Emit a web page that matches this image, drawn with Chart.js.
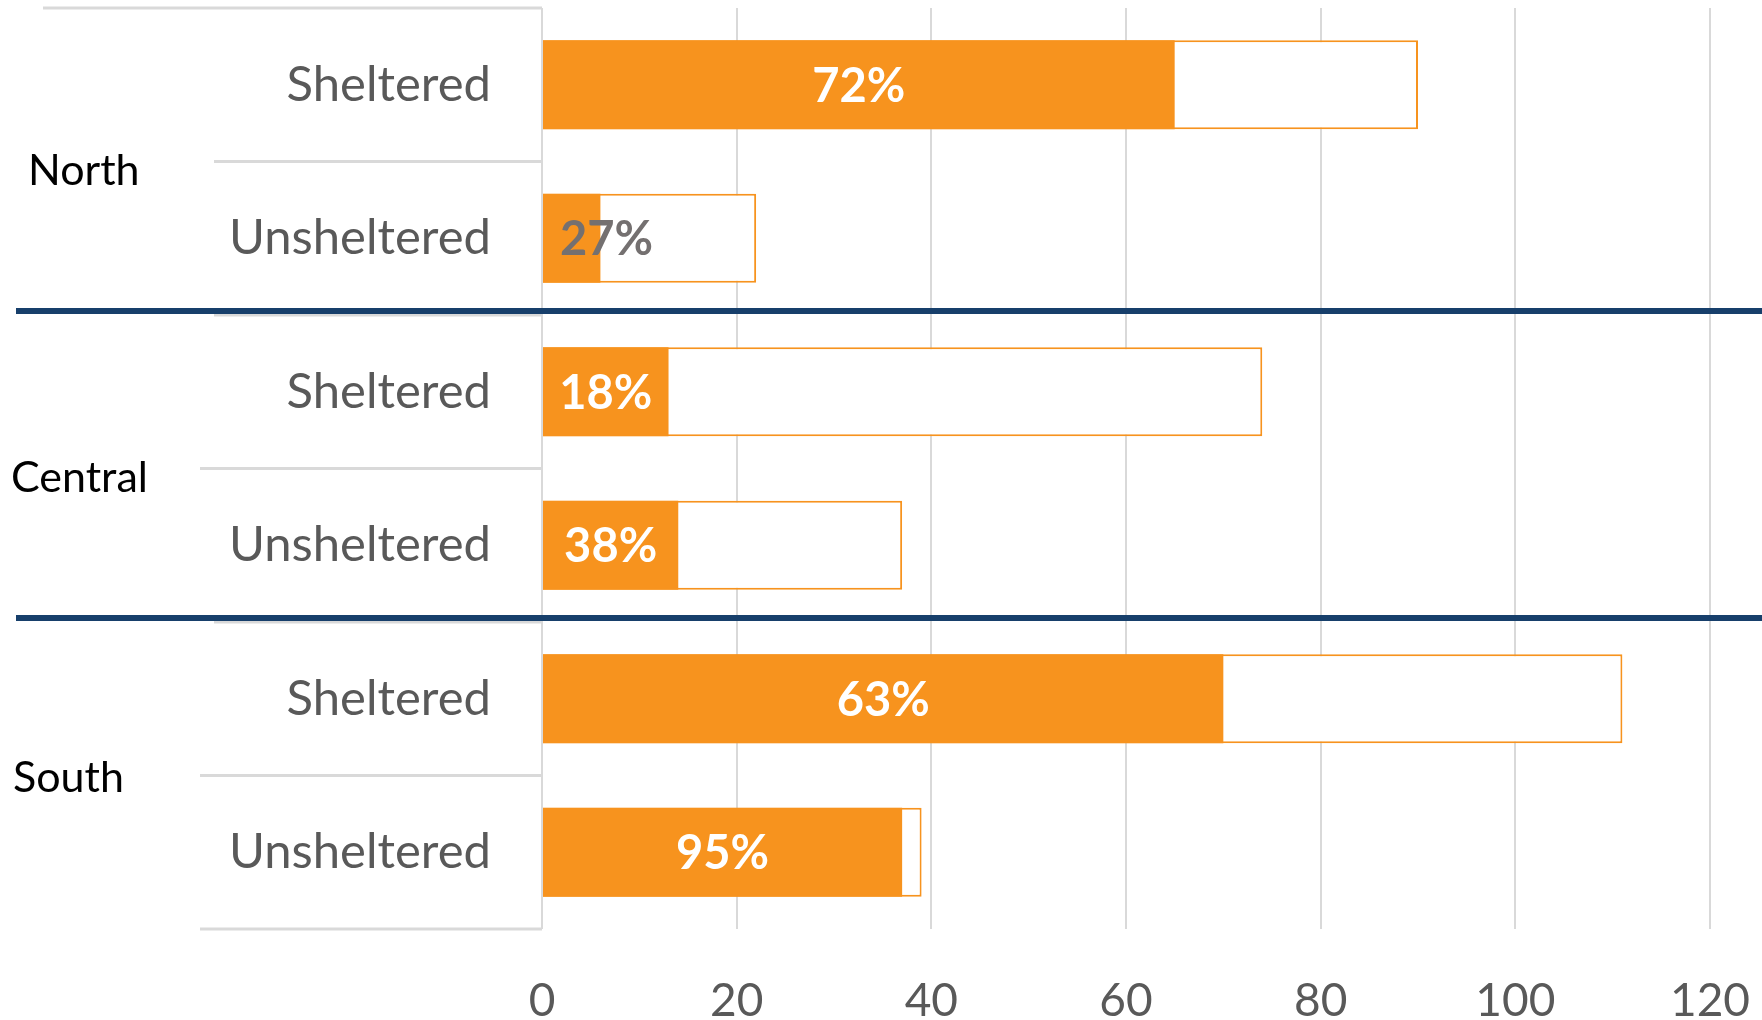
<!DOCTYPE html>
<html>
<head>
<meta charset="utf-8">
<title>Sheltered / Unsheltered by region</title>
<script src="https://cdn.jsdelivr.net/npm/chart.js@4.4.1/dist/chart.umd.min.js"></script>
<style>
    html, body { margin: 0; padding: 0; background: #ffffff; }
    #wrap { width: 1762px; height: 1020px; position: relative; }
</style>
</head>
<body>
<div id="wrap"><canvas id="regionChart"></canvas></div>
<script>
// Regions (outer level of the category axis) and shelter type (inner level)
const groups = ['North', 'Central', 'South'];
const shelterTypes = ['Sheltered', 'Unsheltered'];

// One value per bar, top to bottom: North S, North U, Central S, Central U, South S, South U
const totalCounts = [90, 22, 74, 37, 111, 39];
const metCounts = [65, 6, 13, 14, 70, 37];

// Value axis ticks
const xTickValues = [0, 20, 40, 60, 80, 100, 120];

const ORANGE = '#f7931e';
const NAVY = '#173f6b';
const AXIS_GREY = '#d9d9d9';
const TEXT_GREY = '#595959';
const FONT = 'Lato, "Open Sans", sans-serif';

const barLabels = [];
groups.forEach(g => shelterTypes.forEach(t => barLabels.push(g + ' ' + t)));

/**
 * Percent labels inside the filled bars
 */
const percentLabels = {
    id: 'percentLabels',
    afterDatasetsDraw(chart) {
        const ctx = chart.ctx;
        const meta = chart.getDatasetMeta(0);
        ctx.save();
        ctx.font = 'bold 47px ' + FONT;
        ctx.textBaseline = 'middle';
        meta.data.forEach((bar, i) => {
            const pct = Math.round(metCounts[i] / totalCounts[i] * 100) + '%';
            const w = ctx.measureText(pct).width;
            const barW = bar.x - bar.base;
            if (w + 10 <= barW) {
                ctx.fillStyle = '#ffffff';
                ctx.textAlign = 'center';
                ctx.fillText(pct, (bar.x + bar.base) / 2, bar.y + 2);
            } else {
                // label doesn't fit - Excel shows it in grey from near the base
                ctx.fillStyle = '#747070';
                ctx.textAlign = 'left';
                ctx.fillText(pct, bar.base + 17, bar.y + 2);
            }
        });
        ctx.restore();
    }
};

/**
 * Two-level category axis on the left plus the navy region dividers
 */
const categoryAxis = {
    id: 'categoryAxis',
    afterDraw(chart) {
        const ctx = chart.ctx;
        const y = chart.scales.y;
        const left = chart.chartArea.left;
        const top = chart.chartArea.top;
        const bottom = chart.chartArea.bottom;
        const step = (bottom - top) / barLabels.length;

        ctx.save();

        // grey axis lines
        ctx.strokeStyle = AXIS_GREY;
        ctx.lineWidth = 3;
        const hLine = (x0, yy) => {
            ctx.beginPath();
            ctx.moveTo(x0, yy);
            ctx.lineTo(left, yy);
            ctx.stroke();
        };
        hLine(43, top);
        for (let i = 1; i < barLabels.length; i++) {
            hLine(i % 2 === 1 ? (i === 1 ? 214 : 200) : 214, top + step * i);
        }
        hLine(200, bottom);

        // inner labels
        ctx.fillStyle = TEXT_GREY;
        ctx.font = '49px ' + FONT;
        ctx.textAlign = 'right';
        ctx.textBaseline = 'middle';
        barLabels.forEach((lbl, i) => {
            ctx.fillText(shelterTypes[i % 2], 491, y.getPixelForValue(i));
        });

        // outer (region) labels
        const groupX = [28, 11, 13];
        const groupNudge = [10, 10, 3];
        ctx.fillStyle = '#000000';
        ctx.font = '43px ' + FONT;
        ctx.textAlign = 'left';
        groups.forEach((g, gi) => {
            const yc = (y.getPixelForValue(gi * 2) + y.getPixelForValue(gi * 2 + 1)) / 2;
            ctx.fillText(g, groupX[gi], yc + groupNudge[gi]);
        });

        // navy dividers between regions
        ctx.strokeStyle = NAVY;
        ctx.lineWidth = 6;
        for (let gi = 1; gi < groups.length; gi++) {
            const yy = top + step * gi * 2 - 4;
            ctx.beginPath();
            ctx.moveTo(16, yy);
            ctx.lineTo(chart.width, yy);
            ctx.stroke();
        }

        ctx.restore();
    }
};

const ctx = document.getElementById('regionChart').getContext('2d');
const chart = new Chart(ctx, {
    type: 'bar',
    data: {
        labels: barLabels,
        datasets: [{
            label: 'Met',
            data: metCounts,
            backgroundColor: ORANGE,
            borderWidth: 0,
            grouped: false,
            barPercentage: 0.58,
            categoryPercentage: 1
        }, {
            label: 'Total',
            data: totalCounts,
            backgroundColor: '#ffffff',
            borderColor: ORANGE,
            borderWidth: 2,
            borderSkipped: false,
            grouped: false,
            barPercentage: 0.58,
            categoryPercentage: 1
        }]
    },
    options: {
        indexAxis: 'y',
        responsive: true,
        maintainAspectRatio: false,
        animation: false,
        layout: {
            padding: { left: 542, right: 52, top: 8, bottom: 0 }
        },
        plugins: {
            legend: { display: false },
            tooltip: { enabled: false }
        },
        scales: {
            x: {
                position: 'bottom',
                min: 0,
                max: 120,
                afterBuildTicks: (scale) => {
                    scale.ticks = xTickValues.map(v => ({ value: v }));
                },
                afterFit: (scale) => {
                    scale.height = 91;
                    scale.paddingLeft = 0;
                    scale.paddingRight = 0;
                },
                grid: {
                    color: AXIS_GREY,
                    lineWidth: 2,
                    drawTicks: false
                },
                border: { display: false },
                ticks: {
                    color: TEXT_GREY,
                    font: { family: FONT, size: 46 },
                    padding: 45,
                    maxRotation: 0
                }
            },
            y: {
                display: false
            }
        }
    },
    plugins: [percentLabels, categoryAxis]
});
</script>
</body>
</html>
